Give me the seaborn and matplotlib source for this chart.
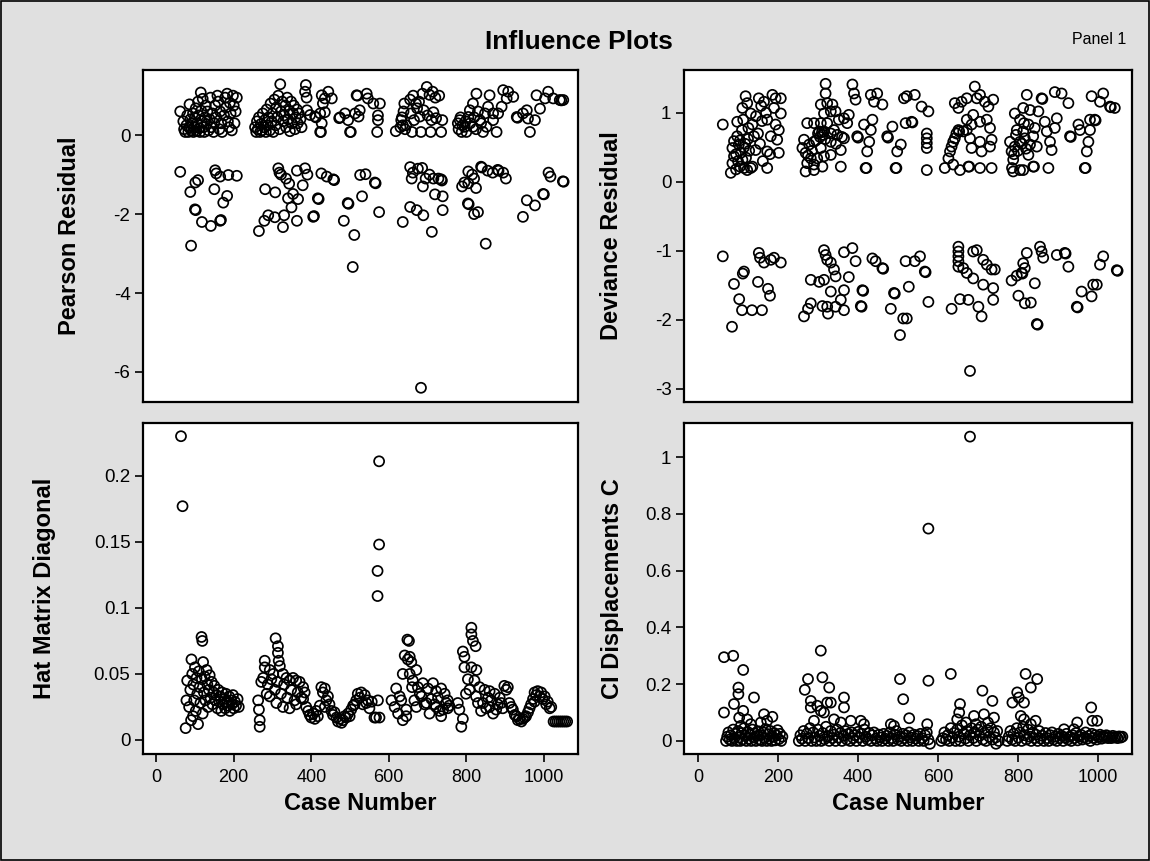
import matplotlib
matplotlib.use("Agg")
import matplotlib.pyplot as plt
import pandas as pd
import seaborn as sns
from matplotlib.patches import Rectangle
from matplotlib.ticker import FixedLocator, FuncFormatter

# ---------------- data (case number, statistic) ----------------
pearson_pos_a = [(62,0.60),(70,0.35),(72,0.15),(75,0.08),(78,0.25),(80,0.50),(83,0.08),(85,0.20),(86,0.78),(88,0.40),
    (90,0.12),(92,0.30),(95,0.55),(96,0.08),(98,0.20),(100,0.45),(102,0.68),(104,0.10),(105,0.30),(108,0.85),
    (110,0.50),(111,0.18),(113,0.08),(115,1.08),(116,0.62),(118,0.35),(120,0.92),(122,0.20),(124,0.08),(126,0.45),
    (128,0.75),(130,0.28),(132,0.60),(135,0.12),(138,0.40),(140,0.95),(142,0.20),(145,0.55),(148,0.08),(150,0.30),
    (152,0.75),(155,0.45),(158,1.00),(160,0.85),(163,0.15),(165,0.60),(168,0.30),(170,0.08),(175,0.50),(178,0.95),
    (180,0.70),(183,1.05),(185,0.35),(188,0.20),(190,0.82),(192,0.55),(195,0.12),(198,1.00),(200,0.75),(202,0.30),
    (205,0.60),(208,0.95)]
pearson_neg_a = [(62,-0.93),(88,-1.44),(90,-2.80),(100,-1.88),(102,-1.90),(101,-1.20),(108,-1.14),(118,-2.20),
    (141,-2.30),(150,-1.37),(152,-0.89),(155,-0.97),(165,-1.05),(165,-2.17),(167,-2.15),(173,-1.71),(183,-1.54),
    (186,-1.01),(208,-1.03)]
pearson_pos_b = [(255,0.20),(258,0.08),(260,0.35),(262,0.15),(265,0.45),(268,0.08),(270,0.28),(273,0.12),(275,0.55),
    (278,0.20),(280,0.38),(283,0.08),(285,0.65),(288,0.25),(290,0.45),(293,0.12),(295,0.80),(298,0.35),(300,0.55),
    (302,0.08),(305,0.90),(308,0.25),(310,0.70),(312,0.45),(315,1.00),(318,0.15),(320,1.29),(322,0.60),(325,0.85),
    (328,0.35),(330,0.50),(333,0.75),(335,0.20),(338,0.95),(340,0.40),(343,0.62),(345,0.10),(348,0.85),(350,0.30),
    (353,0.55),(355,0.75),(358,0.15),(360,0.45),(363,0.65),(365,0.30),(368,0.55),(372,0.40),(375,0.20),(384,1.10),
    (386,1.27),(388,0.95),
    (389,0.63),(397,0.51),(410,0.47),(412,0.45),(423,0.55),(423,0.08),(425,0.08),(427,1.01),(427,0.30),(430,0.80),
    (435,0.93),(435,0.58),(444,1.10),(453,0.93),
    (472,0.43),(474,0.45),(487,0.55),(495,0.38),(500,0.08),(502,0.08),(513,0.55),(517,1.01),(519,1.00),(522,0.47),
    (525,0.63),(543,1.05),(546,0.93),(560,0.80),(570,0.08),(572,0.38),(572,0.50),(577,0.80)]
pearson_neg_b = [(265,-2.43),(279,-2.17),(281,-1.37),(289,-2.03),(306,-2.08),(307,-1.45),(315,-0.84),(318,-0.95),
    (322,-1.00),(327,-2.33),(330,-2.03),(335,-1.10),(340,-1.60),(343,-1.23),(349,-1.83),(353,-1.49),(363,-0.90),
    (363,-2.17),(366,-1.62),(378,-1.27),(384,-0.84),(390,-1.00),(405,-2.07),(407,-2.05),(417,-1.60),(419,-1.62),
    (426,-0.97),(440,-1.05),(457,-1.12),(459,-1.14),(484,-2.17),(494,-1.72),(496,-1.74),(507,-3.34),(511,-2.53),
    (526,-1.01),(531,-1.55),(540,-0.99),(564,-1.20),(566,-1.22),(575,-1.95)]
pearson_pos_c = [(618,0.10),(630,0.20),(632,0.38),(634,0.45),(636,0.25),(638,0.60),(640,0.80),(642,0.15),(645,0.25),
    (655,0.90),(657,0.55),(660,0.08),(663,1.00),(665,0.38),(670,0.80),(673,0.68),(678,0.85),(680,0.47),(683,0.08),
    (687,1.05),(690,0.63),(698,1.22),(700,0.50),(705,1.02),(708,0.08),(710,0.38),(713,1.10),(715,0.58),(720,0.95),
    (722,0.43),(730,1.00),(735,0.08),(738,0.38)]
pearson_neg_c = [(636,-2.20),(655,-0.81),(655,-1.82),(659,-1.10),(662,-0.95),(672,-1.90),(675,-0.85),(683,-6.40),
    (686,-0.83),(688,-1.30),(689,-2.03),(695,-1.10),(705,-1.00),(711,-2.45),(715,-1.10),(719,-1.50),(728,-1.10),
    (735,-1.12),(737,-1.15),(739,-1.55),(739,-1.90)]
pearson_pos_d = [(778,0.30),(780,0.15),(783,0.38),(785,0.45),(788,0.08),(790,0.25),(796,0.21),(798,0.35),(800,0.08),
    (805,0.46),(809,0.63),(810,0.30),(817,0.80),(817,0.21),(820,0.45),(825,0.15),(826,1.05),(830,0.60),(835,0.38),
    (838,0.30),(843,0.08),(848,0.55),(852,0.21),(856,0.72),(860,1.01),(869,0.38),(869,0.55),(878,0.08),(882,0.55),
    (891,0.72),(895,1.14),(904,0.93),(908,1.10),(921,0.97),(930,0.46),(932,0.44),(946,0.55),(956,0.63),(959,0.42),
    (964,0.08),(977,0.38),(981,1.01),(990,0.67),(1003,0.93),(1011,1.10),(1024,0.93),(1041,0.89),(1045,0.88),(1050,0.89)]
pearson_neg_d = [(789,-1.30),(795,-1.20),(804,-1.73),(806,-1.75),(805,-0.92),(815,-1.00),(805,-1.22),(820,-1.10),
    (820,-2.00),(825,-1.34),(830,-1.95),(838,-0.80),(840,-0.82),(850,-2.75),(855,-0.90),(868,-0.95),(881,-0.88),
    (883,-0.90),(895,-0.95),(902,-1.10),(946,-2.07),(956,-1.65),(977,-1.78),(998,-1.49),(1000,-1.50),(1012,-0.95),
    (1017,-1.05),(1049,-1.17),(1051,-1.18)]

deviance_pos_a = [(62,0.83),(82,0.13),(86,0.27),(90,0.37),(86,0.49),(90,0.59),(98,0.66),(102,0.54),(107,0.42),(111,0.32),
    (115,0.20),(98,0.87),(111,1.07),(119,1.24),(123,1.14),(132,0.99),(136,0.83),(140,0.66),(144,0.46),(123,0.17),
    (132,0.20),(152,1.21),(165,1.16),(186,1.26),(194,1.21),(207,1.21),(190,1.07),(207,0.99),(173,0.90),(194,0.83),
    (202,0.75),(182,0.66),(198,0.61),(173,0.44),(202,0.42),(173,0.20),(136,0.22),(95,0.40),(100,0.30),(105,0.60),
    (110,0.75),(115,0.50),(120,0.35),(125,0.62),(128,0.45),(95,0.18),(105,0.22),(113,0.90),(118,0.55),(126,0.78),
    (150,0.70),(155,0.55),(160,0.88),(145,0.95),(158,1.10),(170,1.00),(180,0.40),(162,0.30)]
deviance_neg_a = [(62,-1.08),(85,-2.10),(90,-1.48),(103,-1.70),(110,-1.86),(112,-1.33),(115,-1.30),(135,-1.86),
    (150,-1.45),(152,-1.03),(155,-1.10),(160,-1.86),(165,-1.17),(175,-1.55),(180,-1.65),(182,-1.13),(190,-1.10),
    (207,-1.17)]
deviance_pos_b = [(319,1.42),(319,1.28),(386,1.41),(390,1.28),(394,1.19),(307,1.12),(323,1.14),(336,1.12),(344,1.02),
    (315,0.99),(332,1.02),(352,0.90),(365,0.92),(377,0.97),(373,0.85),(273,0.85),(290,0.85),(307,0.85),(323,0.85),
    (303,0.73),(315,0.73),(332,0.70),(348,0.68),(365,0.63),(265,0.61),(278,0.54),(261,0.49),(290,0.58),(307,0.49),
    (332,0.58),(357,0.46),(269,0.42),(282,0.34),(298,0.34),(315,0.37),(332,0.39),(273,0.27),(290,0.25),(311,0.22),
    (269,0.15),(290,0.17),(357,0.22),(300,0.70),(305,0.65),(310,0.72),(312,0.68),(318,0.62),(295,0.60),(285,0.45),
    (275,0.38),(340,0.75),(345,0.55),(360,0.65),
    (398,0.66),(400,0.64),(415,0.83),(436,0.90),(432,0.75),(428,0.58),(423,0.44),(419,0.20),(421,0.20),(432,1.26),
    (448,1.28),(440,1.16),(461,1.12),
    (473,0.66),(475,0.64),(486,0.80),(507,0.54),(498,0.44),(494,0.20),(496,0.20),(515,1.21),(519,0.85),(522,1.24),
    (542,1.26),(559,1.09),(576,1.02),(534,0.87),(536,0.86),(572,0.70),(572,0.63),(572,0.56),(572,0.49),(572,0.17)]
deviance_neg_b = [(315,-0.99),(319,-1.06),(323,-1.13),(332,-1.17),(340,-1.27),(344,-1.37),(365,-1.02),(386,-0.96),
    (394,-1.15),(436,-1.11),(444,-1.15),(461,-1.25),(463,-1.26),(282,-1.42),(303,-1.45),(315,-1.42),(377,-1.38),
    (332,-1.59),(365,-1.57),(357,-1.71),(344,-1.81),(282,-1.76),(311,-1.80),(323,-1.81),(265,-1.95),(275,-1.84),
    (325,-1.91),(365,-1.86),(411,-1.57),(413,-1.58),(407,-1.80),(409,-1.81),(490,-1.61),(492,-1.62),(482,-1.84),
    (513,-1.98),(505,-2.22),(519,-1.15),(542,-1.15),(555,-1.08),(567,-1.30),(569,-1.31),(527,-1.52),(576,-1.74),
    (522,-1.98)]
deviance_pos_c = [(617,0.20),(638,0.25),(655,0.17),(676,0.22),(678,0.22),(705,0.20),(734,0.20),(626,0.34),(630,0.44),
    (634,0.51),(638,0.58),(642,0.63),(646,0.70),(651,0.75),(653,0.73),(642,1.14),(659,1.16),(672,1.21),(692,1.38),
    (697,1.21),(705,1.26),(717,1.16),(726,1.09),(738,1.19),(651,1.07),(672,0.90),(688,0.97),(705,0.87),(722,0.90),
    (684,0.83),(663,0.73),(680,0.63),(705,0.58),(730,0.78),(734,0.61),(684,0.49),(709,0.44),(730,0.51),(672,0.75)]
deviance_neg_c = [(651,-0.94),(651,-1.01),(651,-1.08),(651,-1.15),(651,-1.23),(663,-1.25),(672,-1.32),(688,-1.01),
    (697,-0.99),(713,-1.13),(722,-1.20),(734,-1.27),(742,-1.27),(688,-1.40),(713,-1.49),(738,-1.54),(738,-1.71),
    (634,-1.84),(655,-1.70),(676,-1.71),(701,-1.81),(709,-1.95),(680,-2.74)]
deviance_pos_d = [(788,0.15),(805,0.17),(813,0.17),(838,0.22),(840,0.22),(876,0.20),(788,0.32),(784,0.44),(792,0.51),
    (780,0.58),(805,0.58),(817,0.63),(830,0.54),(847,0.51),(884,0.46),(880,0.58),(826,0.39),(792,0.99),(813,1.07),
    (830,1.04),(851,1.02),(805,0.90),(826,0.83),(842,0.78),(867,0.87),(897,0.92),(797,0.75),(813,0.73),(838,0.66),
    (872,0.73),(892,0.78),(822,1.26),(859,1.21),(861,1.20),(892,1.30),(909,1.28),(926,1.14),(785,0.20),(790,0.40),
    (800,0.45),(810,0.55),(820,0.48),(795,0.68),(815,0.85),
    (930,0.66),(932,0.65),(951,0.83),(955,0.75),(980,0.90),(992,0.90),(994,0.89),(980,0.75),(976,0.58),(972,0.44),
    (967,0.20),(969,0.20),(984,1.24),(1013,1.28),(1005,1.16),(1030,1.09),(1032,1.08),(1042,1.07)]
deviance_neg_d = [(784,-1.43),(797,-1.36),(809,-1.32),(811,-1.33),(817,-1.25),(842,-1.47),(822,-1.03),(813,-1.18),
    (855,-0.94),(859,-1.01),(863,-1.10),(897,-1.06),(917,-1.03),(919,-1.04),(926,-1.23),(801,-1.65),(817,-1.76),
    (832,-1.75),(847,-2.06),(849,-2.07),(947,-1.81),(949,-1.82),(959,-1.59),(984,-1.66),(988,-1.49),(997,-1.49),
    (1013,-1.08),(1005,-1.20),(1047,-1.28),(1049,-1.29)]

hat_a = [(64,0.230),(68,0.177),(76,0.009),(78,0.030),(80,0.045),(85,0.025),(88,0.038),(90,0.015),(91,0.061),(93,0.050),
    (95,0.018),(96,0.042),(98,0.030),(100,0.055),(102,0.022),(104,0.047),(106,0.035),(108,0.012),(110,0.052),(112,0.040),
    (114,0.028),(117,0.078),(118,0.046),(119,0.075),(120,0.020),(121,0.059),(123,0.036),(125,0.048),(127,0.030),
    (130,0.053),(132,0.042),(134,0.025),(136,0.038),(138,0.049),(140,0.032),(143,0.044),(145,0.027),(148,0.036),
    (150,0.041),(153,0.030),(155,0.034),(158,0.024),(160,0.038),(163,0.029),(165,0.033),(168,0.022),(170,0.036),
    (173,0.027),(175,0.031),(178,0.024),(180,0.035),(183,0.029),(185,0.026),(188,0.033),(190,0.022),(193,0.030),
    (195,0.027),(198,0.034),(200,0.024),(203,0.029),(206,0.026),(210,0.031),(213,0.025)]
hat_b = [(263,0.030),(265,0.023),(267,0.015),(267,0.010),(271,0.044),(276,0.047),(280,0.060),(280,0.055),(285,0.035),
    (288,0.042),(293,0.053),(293,0.033),(297,0.046),(302,0.050),(306,0.038),(308,0.077),(310,0.028),(312,0.044),
    (314,0.071),(314,0.066),(316,0.060),(319,0.056),(322,0.035),(327,0.050),(327,0.025),(330,0.042),(336,0.047),
    (338,0.032),(344,0.045),(344,0.024),(348,0.038),(353,0.047),(357,0.030),(361,0.045),(361,0.027),(365,0.036),
    (370,0.044),(374,0.032),(379,0.040),(379,0.031),(383,0.036),(387,0.025),(392,0.022),(396,0.019),(400,0.017),
    (405,0.020),(409,0.016),(413,0.022),(417,0.018),(422,0.026),(426,0.040),(430,0.036),(435,0.039),(435,0.025),
    (439,0.030),(443,0.033),(447,0.027),(452,0.022),(456,0.019),(460,0.021),(465,0.017),(469,0.014),(473,0.016),
    (478,0.013),(482,0.015),(486,0.018),(490,0.017),(495,0.020),(499,0.018),(503,0.023),(508,0.026),(512,0.027),
    (516,0.030),(520,0.035),(525,0.032),(529,0.036),(533,0.027),(538,0.034),(542,0.028),(546,0.030),(550,0.024),
    (556,0.029),(563,0.017),(567,0.017),(572,0.030),(576,0.017),(575,0.211),(575,0.148),(571,0.128),(571,0.109)]
hat_c = [(607,0.030),(615,0.025),(619,0.039),(624,0.020),(628,0.033),(632,0.030),(636,0.050),(636,0.015),(641,0.064),
    (645,0.023),(645,0.018),(648,0.076),(649,0.061),(652,0.075),(654,0.063),(654,0.050),(658,0.059),(660,0.040),
    (662,0.045),(666,0.030),(671,0.053),(671,0.025),(675,0.040),(680,0.035),(684,0.033),(688,0.043),(692,0.027),
    (697,0.028),(701,0.039),(705,0.020),(710,0.031),(714,0.043),(718,0.027),(722,0.037),(722,0.025),(727,0.032),
    (731,0.022),(735,0.039),(735,0.018),(740,0.023),(744,0.035),(748,0.028),(752,0.030),(752,0.024),(756,0.026)]
hat_d = [(778,0.028),(782,0.023),(787,0.010),(791,0.016),(791,0.067),(795,0.063),(795,0.055),(799,0.035),(804,0.046),
    (808,0.038),(813,0.085),(813,0.080),(813,0.055),(817,0.075),(821,0.045),(824,0.071),(825,0.033),(826,0.053),
    (830,0.028),(834,0.040),(838,0.022),(843,0.028),(847,0.038),(851,0.024),(856,0.032),(860,0.037),(860,0.025),
    (864,0.030),(869,0.020),(873,0.035),(877,0.023),(881,0.027),(886,0.032),(890,0.028),(894,0.024),(898,0.041),
    (903,0.038),(907,0.040),(911,0.028),(916,0.025),(920,0.023),(925,0.019),(929,0.018),(933,0.015),(937,0.016),
    (942,0.014),(946,0.016),(950,0.017),(954,0.018),(959,0.021),(963,0.024),(967,0.027),(972,0.031),(976,0.036),
    (976,0.029),(980,0.034),(984,0.037),(989,0.033),(993,0.036),(997,0.031),(1002,0.033),(1006,0.027),(1010,0.029),
    (1015,0.024),(1019,0.025),(1025,0.014),(1030,0.014),(1035,0.014),(1040,0.014),(1045,0.014),(1050,0.014),
    (1055,0.014),(1060,0.014)]

cook_low_a = [(70,0.000),(73,0.015),(76,0.030),(79,0.005),(82,0.020),(85,0.000),(88,0.040),(91,0.010),(94,0.025),
    (97,0.000),(100,0.035),(103,0.012),(106,0.000),(109,0.028),(112,0.005),(115,0.045),(118,0.018),(121,0.000),
    (124,0.032),(127,0.008),(130,0.022),(133,0.000),(136,0.040),(139,0.012),(142,0.026),(145,0.000),(148,0.018),
    (151,0.034),(154,0.004),(157,0.020),(160,0.000),(163,0.030),(166,0.010),(169,0.042),(172,0.000),(175,0.024),
    (178,0.008),(181,0.035),(184,0.000),(187,0.015),(190,0.028),(193,0.002),(196,0.020),(199,0.038),(202,0.006),
    (205,0.025),(208,0.000),(211,0.015)]
cook_low_b = [(252,0.000),(256,0.020),(260,0.008),(264,0.035),(268,0.000),(272,0.025),(276,0.010),(280,0.045),
    (284,0.000),(288,0.030),(292,0.012),(296,0.000),(300,0.040),(304,0.018),(308,0.000),(312,0.028),(316,0.006),
    (320,0.050),(324,0.015),(328,0.000),(332,0.035),(336,0.010),(340,0.022),(344,0.000),(348,0.040),(352,0.012),
    (356,0.028),(360,0.000),(364,0.018),(368,0.035),(372,0.005),(376,0.025),(380,0.000),(384,0.030),(388,0.010),
    (392,0.020),(396,0.000),(400,0.032),(404,0.012),(408,0.025),(412,0.000),(416,0.040),(420,0.015),(424,0.005),
    (428,0.028),(432,0.000),(436,0.020),(440,0.030),(444,0.008),(448,0.000),(452,0.022),(456,0.012),(460,0.000),
    (464,0.025),(468,0.008),(472,0.018),(476,0.000),(480,0.030),(484,0.010),(488,0.000),(492,0.022),(496,0.035),
    (500,0.005),(504,0.015),(508,0.000),(512,0.025),(516,0.010),(520,0.020),(524,0.000),(528,0.030),(532,0.012),
    (536,0.000),(540,0.022),(544,0.008),(548,0.018),(552,0.000),(556,0.025),(560,0.010),(564,0.000),(568,0.020),
    (572,0.030),(576,0.005),(580,-0.010)]
cook_low_c = [(608,0.000),(612,0.010),(616,0.030),(620,0.005),(624,0.020),(628,0.000),(632,0.045),(636,0.012),
    (640,0.028),(644,0.000),(648,0.040),(652,0.015),(656,0.000),(660,0.055),(664,0.025),(668,0.008),(672,0.035),
    (676,0.000),(680,0.020),(684,0.045),(688,0.010),(692,0.030),(696,0.000),(700,0.040),(704,0.018),(708,0.050),
    (712,0.005),(716,0.028),(720,0.000),(724,0.038),(728,0.015),(732,0.045),(736,0.005),(740,0.030),(744,0.012),
    (748,0.035),(752,0.000),(745,-0.010)]
cook_low_d = [(773,0.000),(777,0.015),(781,0.035),(785,0.005),(789,0.025),(793,0.000),(797,0.045),(801,0.012),
    (805,0.030),(809,0.000),(813,0.050),(817,0.020),(821,0.005),(825,0.040),(829,0.015),(833,0.000),(837,0.030),
    (841,0.010),(845,0.022),(849,0.000),(853,0.035),(857,0.008),(861,0.018),(865,0.000),(869,0.028),(873,0.010),
    (877,0.000),(881,0.020),(885,0.030),(889,0.005),(893,0.015),(897,0.000),(901,0.025),(905,0.010),(909,0.018),
    (913,0.000),(917,0.012),(921,0.025),(925,0.005),(929,0.015),(933,0.000),(937,0.020),(941,0.010),(945,0.028),
    (949,0.002),(953,0.015),(957,0.022),(961,0.005),(965,0.012),(969,0.030),(973,0.008),(977,0.018),(981,0.000),
    (985,0.025),(989,0.010),(993,0.020),(997,0.005),(1001,0.015),(1005,0.022),(1009,0.008),(1013,0.018),(1017,0.012),
    (1021,0.020),(1025,0.010),(1029,0.015),(1033,0.010),(1037,0.018),(1041,0.012),(1045,0.015),(1049,0.010),
    (1053,0.016),(1057,0.012),(1061,0.015)]
cook_high = [(65,0.295),(88,0.300),(113,0.250),(101,0.188),(101,0.165),(140,0.153),(90,0.130),(65,0.100),(113,0.106),
    (103,0.082),(123,0.076),(165,0.094),(186,0.085),(107,0.053),(132,0.059),(157,0.065),(173,0.071),
    (307,0.318),(275,0.218),(311,0.224),(328,0.188),(267,0.180),(282,0.141),(282,0.118),(323,0.135),(332,0.135),
    (365,0.153),(365,0.118),(307,0.106),(298,0.124),(315,0.100),(290,0.071),(340,0.076),(357,0.065),(382,0.071),
    (407,0.071),(415,0.059),
    (505,0.218),(576,0.212),(513,0.147),(528,0.080),(482,0.059),(490,0.053),(573,0.059),(576,0.748),
    (632,0.236),(711,0.177),(736,0.141),(655,0.130),(653,0.100),(648,0.076),(690,0.088),(715,0.094),(740,0.082),
    (670,0.065),(695,0.059),(725,0.065),(680,1.072),
    (819,0.236),(848,0.218),(832,0.188),(798,0.171),(786,0.135),(815,0.135),(802,0.153),(807,0.088),(815,0.076),
    (832,0.059),(844,0.071),(983,0.118),(998,0.071),(986,0.071),(948,0.065),(915,0.041),(940,0.041)]

pearson_ticks = [0, -2, -4, -6]
deviance_ticks = [1, 0, -1, -2, -3]
hat_ticks = [0, 0.05, 0.1, 0.15, 0.2]
cook_ticks = [0, 0.2, 0.4, 0.6, 0.8, 1]
case_ticks = [0, 200, 400, 600, 800, 1000]

# ---------------- styling ----------------
sns.set_theme(style="white")
plt.rcParams['font.family'] = ['Liberation Sans', 'DejaVu Sans']
plt.rcParams['axes.unicode_minus'] = False

W, H = 1150, 861
fig = plt.figure(figsize=(W / 100, H / 100), dpi=100)
fig.patch.set_facecolor('#e0e0e0')

def frac(left, top, right, bottom):
    return [left / W, 1 - bottom / H, (right - left) / W, (bottom - top) / H]

panels = [
    dict(rect=frac(143, 70, 578, 402), pts=pearson_pos_a + pearson_neg_a + pearson_pos_b + pearson_neg_b +
         pearson_pos_c + pearson_neg_c + pearson_pos_d + pearson_neg_d,
         ylabel="Pearson Residual", ylim=(-6.76, 1.65), yticks=pearson_ticks, xlim=(-34, 1088),
         bottom=False, labx=(70 - 143) / 435),
    dict(rect=frac(684, 70, 1132, 402), pts=deviance_pos_a + deviance_neg_a + deviance_pos_b + deviance_neg_b +
         deviance_pos_c + deviance_neg_c + deviance_pos_d + deviance_neg_d,
         ylabel="Deviance Residual", ylim=(-3.19, 1.62), yticks=deviance_ticks, xlim=(-35, 1085),
         bottom=False, labx=(612 - 684) / 448),
    dict(rect=frac(143, 423, 578, 754), pts=hat_a + hat_b + hat_c + hat_d,
         ylabel="Hat Matrix Diagonal", ylim=(-0.0106, 0.240), yticks=hat_ticks, xlim=(-34, 1088),
         bottom=True, labx=(45 - 143) / 435),
    dict(rect=frac(684, 423, 1132, 754), pts=cook_low_a + cook_low_b + cook_low_c + cook_low_d + cook_high,
         ylabel="CI Displacements C", ylim=(-0.046, 1.12), yticks=cook_ticks, xlim=(-35, 1085),
         bottom=True, labx=(612 - 684) / 448),
]

fmt = FuncFormatter(lambda v, _: f"{v:g}")

for p in panels:
    ax = fig.add_axes(p['rect'])
    ax.set_facecolor('white')
    df = pd.DataFrame(p['pts'], columns=['case', 'value'])
    sns.scatterplot(data=df, x='case', y='value', ax=ax, marker='o', s=52,
                    facecolor='none', edgecolor='black', linewidth=1.25, legend=False)
    ax.collections[-1].set_facecolor('none')
    ax.set_xlim(*p['xlim'])
    ax.set_ylim(*p['ylim'])
    for sp in ax.spines.values():
        sp.set_color('black')
        sp.set_linewidth(1.6)
    ax.yaxis.set_major_locator(FixedLocator(p['yticks']))
    ax.yaxis.set_major_formatter(fmt)
    ax.xaxis.set_major_locator(FixedLocator(case_ticks))
    ax.xaxis.set_major_formatter(fmt)
    ax.tick_params(axis='y', left=True, direction='out', length=6, width=1.2,
                   color='black', labelsize=13.5, labelcolor='black', pad=3)
    ax.tick_params(axis='x', bottom=p['bottom'], labelbottom=p['bottom'], direction='out',
                   length=6, width=1.2, color='black', labelsize=13, labelcolor='black', pad=5)
    ax.set_ylabel(p['ylabel'], fontsize=17, fontweight='bold', color='black', va='center')
    ax.yaxis.set_label_coords(p['labx'], 0.5)
    if p['bottom']:
        ax.set_xlabel("Case Number", fontsize=17, fontweight='bold', color='black', va='center')
        ax.xaxis.set_label_coords(0.5, (754 - 803) / 331)
    else:
        ax.set_xlabel("")
    ax.grid(False)

fig.text(579 / W, 1 - 42 / H, "Influence Plots", ha='center', va='center',
         fontsize=19, fontweight='bold', color='black')
fig.text(1126 / W, 1 - 40 / H, "Panel 1", ha='right', va='center', fontsize=11.5, color='black')

fig.add_artist(Rectangle((1 / W, 1 / H), 1 - 2 / W, 1 - 2 / H, transform=fig.transFigure,
                         fill=False, edgecolor='black', linewidth=1.2))

fig.savefig("out.png", dpi=100, facecolor=fig.get_facecolor())
